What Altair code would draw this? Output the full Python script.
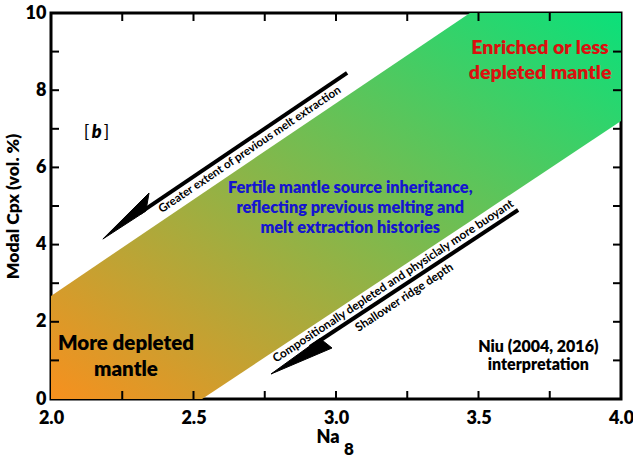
import altair as alt
import pandas as pd

FONT = "Lato"
BOLD = 800

# Fertile-mantle band: Na8 breakpoints with lower / upper Modal Cpx edges
band_na8 = [2.0, 2.53, 3.47, 4.0]
band_lower = [0.0, 0.0, 4.6, 7.2]
band_upper = [2.67, 5.32, 10.0, 10.0]

# axis ticks and labels
x_minor = [2.25, 2.5, 2.75, 3.0, 3.25, 3.5, 3.75]
y_minor = [1, 2, 3, 4, 5, 6, 7, 8, 9]
x_labels = [2.0, 2.5, 3.0, 3.5, 4.0]
y_labels = [0, 2, 4, 6, 8, 10]

# arrow 1 (upper): shaft and harpoon head
arrow1_shaft_x = [3.039, 2.312]
arrow1_shaft_y = [8.45, 4.82]
arrow1_head_x = [2.182, 2.344, 2.333]
arrow1_head_y = [4.145, 5.337, 4.870]
# arrow 2 (lower)
arrow2_shaft_x = [3.639, 2.909]
arrow2_shaft_y = [4.896, 1.347]
arrow2_head_x = [2.772, 2.944, 2.986]
arrow2_head_y = [0.648, 1.567, 1.321]

W, H = 570, 386

band_df = pd.DataFrame({"na8": band_na8, "lo": band_lower, "hi": band_upper})
xs = alt.Scale(domain=[2.0, 4.0], nice=False, zero=False)
ys = alt.Scale(domain=[0, 10], nice=False, zero=False)

band = alt.Chart(band_df).mark_area(
    color=alt.Gradient(
        gradient="linear",
        stops=[alt.GradientStop(color="#f7901e", offset=0),
               alt.GradientStop(color="#0be07a", offset=1)],
        x1=0, y1=1, x2=1, y2=0,
    )
).encode(
    x=alt.X("na8:Q", scale=xs,
            axis=alt.Axis(values=x_labels, format=".1f", ticks=False, domain=False, grid=False,
                          labelFont=FONT, labelFontSize=18, labelFontWeight=BOLD,
                          labelColor="black", labelPadding=10, labelFlush=False,
                          labelOverlap=False, labelBound=False, title=None)),
    y=alt.Y("lo:Q", scale=ys,
            axis=alt.Axis(values=y_labels, ticks=False, domain=False, grid=False,
                          labelFont=FONT, labelFontSize=18, labelFontWeight=BOLD,
                          labelColor="black", labelPadding=5, labelFlush=False,
                          title="Modal Cpx (vol. %)", titleFont=FONT, titleFontSize=17.5,
                          titleFontWeight=BOLD, titleColor="black", titlePadding=3)),
    y2="hi:Q",
)

xt = pd.DataFrame({"t": x_minor})
yt = pd.DataFrame({"t": y_minor})
tick_bottom = alt.Chart(xt).mark_rule(color="black", strokeWidth=2).encode(
    x=alt.X("t:Q", scale=xs), y=alt.value(H), y2=alt.value(H - 8))
tick_top = alt.Chart(xt).mark_rule(color="black", strokeWidth=2).encode(
    x=alt.X("t:Q", scale=xs), y=alt.value(0), y2=alt.value(8))
tick_left = alt.Chart(yt).mark_rule(color="black", strokeWidth=2).encode(
    y=alt.Y("t:Q", scale=ys), x=alt.value(0), x2=alt.value(8))
tick_right = alt.Chart(yt).mark_rule(color="black", strokeWidth=2).encode(
    y=alt.Y("t:Q", scale=ys), x=alt.value(W), x2=alt.value(W - 8))

shaft_df = pd.DataFrame({
    "x": arrow1_shaft_x + arrow2_shaft_x,
    "y": arrow1_shaft_y + arrow2_shaft_y,
    "g": ["a1", "a1", "a2", "a2"],
    "o": [0, 1, 0, 1],
})
head_df = pd.DataFrame({
    "x": arrow1_head_x + arrow2_head_x,
    "y": arrow1_head_y + arrow2_head_y,
    "g": ["h1"] * 3 + ["h2"] * 3,
    "o": [0, 1, 2, 0, 1, 2],
})
shafts = alt.Chart(shaft_df).mark_line(color="black", strokeWidth=4, strokeCap="butt").encode(
    x=alt.X("x:Q", scale=xs), y=alt.Y("y:Q", scale=ys), detail="g:N", order="o:Q")
heads = alt.Chart(head_df).mark_line(color="black", fill="black", strokeWidth=1,
                                     interpolate="linear-closed").encode(
    x=alt.X("x:Q", scale=xs), y=alt.Y("y:Q", scale=ys), detail="g:N", order="o:Q")


def label(text, x, y, size, color="black", weight=BOLD, angle=0, style="normal",
          align="center", dx=0, lh=None):
    props = dict(text=text, font=FONT, fontSize=size, fontWeight=weight, color=color,
                 align=align, baseline="middle", fontStyle=style, dx=dx)
    if angle:
        props["angle"] = angle
    if lh:
        props["lineHeight"] = lh
    return alt.Chart().mark_text(**props).encode(
        x=alt.X(datum=x, scale=xs),
        y=alt.Y(datum=y, scale=ys))


texts = [
    label(["Enriched or less", "depleted mantle"], 3.716, 9.09, 19.5, color="#dc0f0f", lh=25),
    label(["Fertile mantle source inheritance,", "reflecting previous melting and",
           "melt extraction histories"], 3.05, 5.47, 16.3, color="#1515d0", lh=20),
    label(["More depleted", "mantle"], 2.263, 1.425, 20.5, lh=26),
    label(["Niu (2004, 2016)", "interpretation"], 3.71, 1.347, 16, lh=17.5),
    label("Greater extent of previous melt extraction", 2.698, 6.45, 11.6, angle=326, weight="bold"),
    label("Compositionally depleted and physiclaly more buoyant", 3.2, 3.06, 11.8, angle=326.6, weight="bold"),
    label("Shallower ridge depth", 3.239, 2.64, 11.8, angle=326.6, weight="bold"),
    label("[", 2.16, 6.89, 18, weight="normal", dx=-10),
    label("b", 2.16, 6.89, 18, style="italic", dx=0),
    label("]", 2.16, 6.89, 18, weight="normal", dx=10),
]

na_title = alt.Chart().mark_text(text="Na", font=FONT, fontSize=18, fontWeight=BOLD,
                                 color="black", baseline="middle", align="center").encode(
    x=alt.X(datum=2.972, scale=xs), y=alt.value(H + 39))
sub8 = alt.Chart().mark_text(text="8", font=FONT, fontSize=17, fontWeight=BOLD,
                             color="black", baseline="middle", align="center").encode(
    x=alt.X(datum=3.045, scale=xs), y=alt.value(H + 51))

chart = alt.layer(
    band, tick_bottom, tick_top, tick_left, tick_right, shafts, heads, *texts, na_title, sub8
).properties(
    width=W, height=H,
    autosize=alt.AutoSizeParams(type="none"),
    padding={"left": 51, "top": 13, "right": 12, "bottom": 61},
).configure_view(stroke="black", strokeWidth=3)

chart.save("out.html", embed_options={"renderer": "svg", "actions": False})
